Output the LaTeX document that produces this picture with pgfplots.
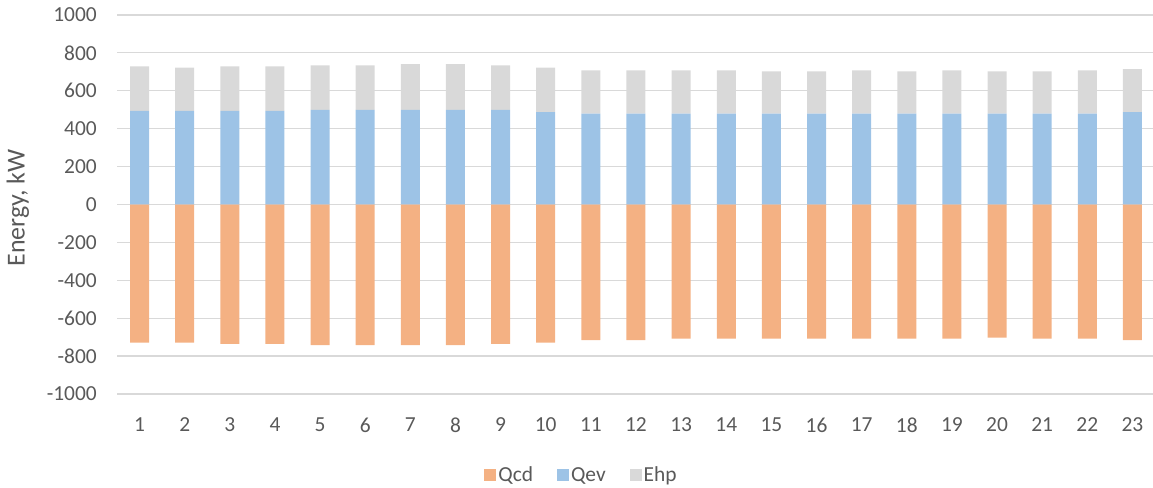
\documentclass[border=0pt]{standalone}
\usepackage{pgfplots}
\pgfplotsset{compat=1.18}
\usepackage{fontspec}
\setmainfont{Carlito}
\definecolor{qcd}{HTML}{F4B183}
\definecolor{qev}{HTML}{9DC3E6}
\definecolor{ehp}{HTML}{D9D9D9}
\definecolor{gridc}{HTML}{D9D9D9}
\definecolor{txt}{HTML}{595959}
\begin{document}
\begin{tikzpicture}
\useasboundingbox (0,0) rectangle (1153bp,488bp);
\pgfplotsset{
  common/.style={
    scale only axis, width=1038bp, height=379bp,
    at={(117bp,94bp)}, anchor=south west,
    xmin=0.5, xmax=23.5, ymin=-1000, ymax=1000,
  }
}
\begin{axis}[common,
  ybar, bar width=19bp,
  ytick={-1000,-800,...,1000},
  xtick={1,...,23},
  ymajorgrids, grid style={draw=gridc, line width=1.2bp},
  axis line style={draw=none}, major tick length=0pt,
  tick label style={font=\fontsize{21.5}{25}\selectfont, text=txt},
  /pgf/number format/assume math mode=true,
  /pgf/number format/set thousands separator={},
  yticklabel style={anchor=east, inner sep=0pt, xshift=-20bp},
  xticklabel style={anchor=center, inner sep=0pt, yshift=-31bp},
  ylabel={Energy, kW},
  every axis y label/.style={at={(axis description cs:-0.0954,0.4908)}, rotate=90, anchor=center, font=\fontsize{26}{30}\selectfont, text=txt},
  legend columns=3,
  legend style={draw=none, at={(axis description cs:0.4475,-0.2137)}, anchor=center,
    font=\fontsize{21.5}{25}\selectfont, text=txt,
    /tikz/every even column/.append style={column sep=22bp}},
  legend image code/.code={\fill[#1] (0bp,-6bp) rectangle (12bp,6bp);},
]
\addplot[fill=qcd, draw=none, bar shift=0pt] coordinates {
(1,-729) (2,-729) (3,-735) (4,-735) (5,-742) (6,-742) (7,-742) (8,-742)
(9,-735) (10,-729) (11,-716) (12,-716) (13,-708) (14,-708) (15,-708) (16,-708)
(17,-708) (18,-708) (19,-708) (20,-703) (21,-708) (22,-708) (23,-716)};
\addlegendentry{Qcd}
\addlegendimage{fill=qev, draw=none}
\addlegendentry{Qev}
\addlegendimage{fill=ehp, draw=none}
\addlegendentry{Ehp}
\end{axis}
\begin{axis}[common, hide axis, ybar stacked, bar width=19bp]
\addplot[fill=qev, draw=none] coordinates {
(1,494) (2,494) (3,494) (4,494) (5,499) (6,499) (7,499) (8,499)
(9,499) (10,487) (11,480) (12,480) (13,480) (14,480) (15,480) (16,480)
(17,480) (18,480) (19,480) (20,480) (21,480) (22,480) (23,487)};
\addplot[fill=ehp, draw=none] coordinates {
(1,235) (2,228) (3,235) (4,235) (5,235) (6,235) (7,242) (8,242)
(9,235) (10,235) (11,228) (12,228) (13,228) (14,228) (15,223) (16,223)
(17,228) (18,223) (19,228) (20,223) (21,223) (22,228) (23,228)};
\end{axis}
\end{tikzpicture}
\end{document}
